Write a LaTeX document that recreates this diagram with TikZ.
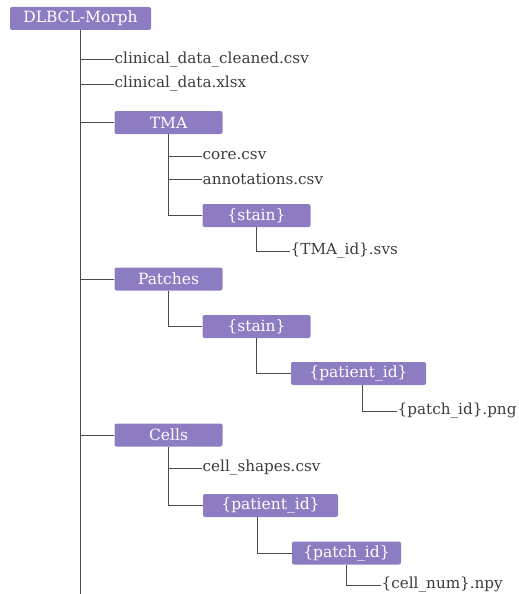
\documentclass[tikz,border=0pt]{standalone}
\usepackage{fontspec}
\setmainfont{DejaVu Serif}
\usepackage{xcolor}
\usepackage{tikz}
\usetikzlibrary{positioning}
\definecolor{folderpurple}{HTML}{8E7CC3}
\definecolor{treegray}{HTML}{3C3C3C}
\definecolor{linegray}{HTML}{4A4A4A}

\begin{document}
\begin{tikzpicture}[
            x=1pt, y=-1pt,
            folder/.style={rectangle, rounded corners=2pt, fill=folderpurple, text=white,
                minimum height=23pt, inner sep=0pt, font=\fontsize{15.5}{18}\selectfont},
            file/.style={anchor=west, inner sep=0.5pt, text=treegray, font=\fontsize{15.2}{18}\selectfont},
            branch/.style={draw=linegray, line width=1pt}
        ]
            \useasboundingbox (0,0) rectangle (519,594);
            % Folders
            \node[folder, minimum width=141pt] (root)     at (80.5,18.5)  {DLBCL-Morph};
            \node[folder, minimum width=108pt] (tma)      at (168.5,122.5) {TMA};
            \node[folder, minimum width=108pt] (tstain)   at (256.5,215.5) {\{stain\}};
            \node[folder, minimum width=108pt] (patches)  at (168.5,279)  {Patches};
            \node[folder, minimum width=108pt] (pstain)   at (256.5,326.5) {\{stain\}};
            \node[folder, minimum width=135pt] (ppatient) at (358.5,373.5) {\{patient\_id\}};
            \node[folder, minimum width=108pt] (cells)    at (168.5,435)  {Cells};
            \node[folder, minimum width=135pt] (cpatient) at (270.5,505.5) {\{patient\_id\}};
            \node[folder, minimum width=109pt] (cpatch)   at (346.5,553)  {\{patch\_id\}};
            % Files
            \node[file] (cleaned)  at (114,60)  {clinical\_data\_cleaned.csv};
            \node[file] (xlsx)     at (114,84)  {clinical\_data.xlsx};
            \node[file] (core)     at (202,156) {core.csv};
            \node[file] (annot)    at (202,179) {annotations.csv};
            \node[file] (svs)      at (290,251) {\{TMA\_id\}.svs};
            \node[file] (png)      at (397,411) {\{patch\_id\}.png};
            \node[file] (shapes)   at (202,468) {cell\_shapes.csv};
            \node[file] (npy)      at (381,585) {\{cell\_num\}.npy};
            \coordinate (trunkend) at (80.5,594);
            % Tree lines
            \draw[branch] (root.south) -- (trunkend);
            \draw[branch] (root.south |- cleaned.west) -- (cleaned.west);
            \draw[branch] (root.south |- xlsx.west) -- (xlsx.west);
            \draw[branch] (root.south |- tma.west) -- (tma.west);
            \draw[branch] (root.south |- patches.west) -- (patches.west);
            \draw[branch] (root.south |- cells.west) -- (cells.west);
            \draw[branch] (tma.south |- core.west) -- (core.west);
            \draw[branch] (tma.south |- annot.west) -- (annot.west);
            \draw[branch] (tma.south) |- (tstain.west);
            \draw[branch] (tstain.south) |- (svs.west);
            \draw[branch] (patches.south) |- (pstain.west);
            \draw[branch] (pstain.south) |- (ppatient.west);
            \draw[branch] ([xshift=3.5pt]ppatient.south) |- (png.west);
            \draw[branch] (cells.south |- shapes.west) -- (shapes.west);
            \draw[branch] (cells.south) |- (cpatient.west);
            \draw[branch] ([xshift=-13pt]cpatient.south) |- (cpatch.west);
            \draw[branch] (cpatch.south) |- (npy.west);
        \end{tikzpicture}
\end{document}
